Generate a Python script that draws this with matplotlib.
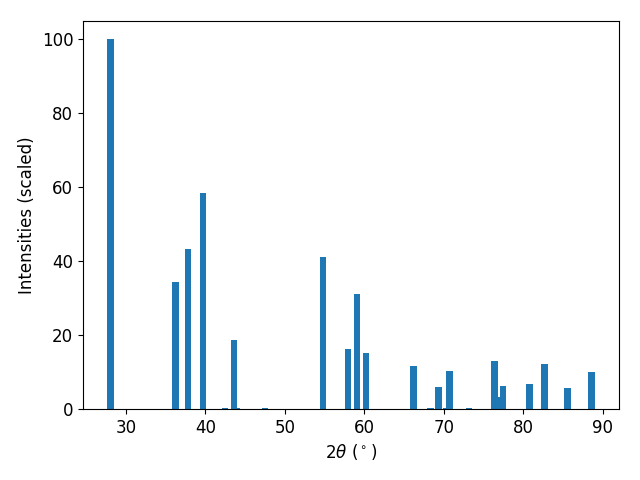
import matplotlib
matplotlib.use("Agg")
import matplotlib.pyplot as plt

two_theta = [28.05, 36.24, 37.82, 39.71, 42.48, 43.61, 44.0, 47.52, 54.83, 57.98, 59.06,
             60.25, 66.18, 68.32, 69.33, 70.3, 70.72, 73.17, 76.39, 76.85, 77.46,
             80.80, 82.69, 85.59, 88.6]
intensity = [100, 34.5, 43.2, 58.4, 0.3, 18.7, 0.3, 0.3, 41.0, 16.3, 31.0,
             15.2, 11.7, 0.3, 6.0, 0.3, 10.3, 0.3, 13.0, 3.3, 6.2,
             6.8, 12.2, 5.7, 10.1]

plt.rcParams['font.size'] = 12
fig, ax = plt.subplots(figsize=(6.4, 4.8), dpi=100)
ax.bar(two_theta, intensity, width=0.8, color='#1f77b4')
ax.set_xlabel(r"2$\theta$ ($^\circ$)")
ax.set_ylabel("Intensities (scaled)")
fig.subplots_adjust(left=83/640, right=619/640, top=1-21/480, bottom=1-409/480)
fig.savefig("out.png", dpi=100)
